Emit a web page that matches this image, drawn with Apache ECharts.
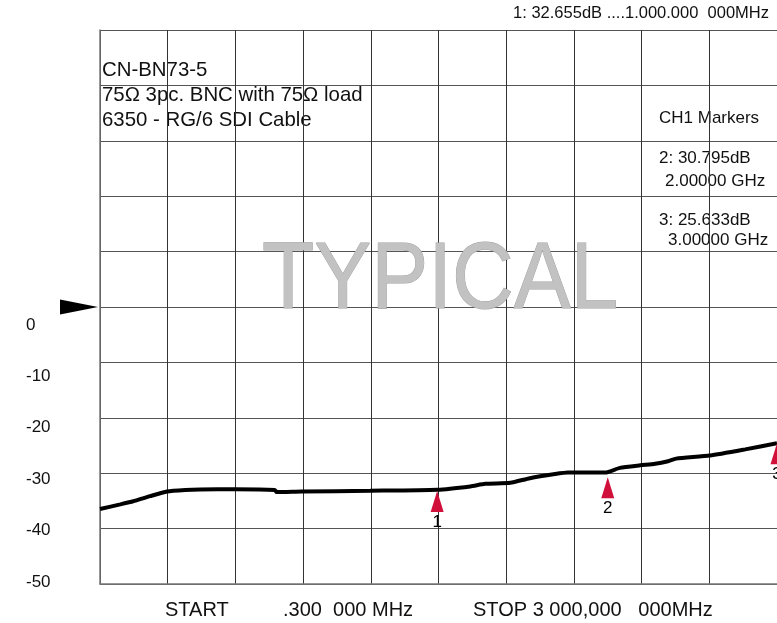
<!DOCTYPE html>
<html>
<head>
<meta charset="utf-8">
<script src="https://cdn.jsdelivr.net/npm/echarts@6/dist/echarts.min.js"></script>
<style>
    html, body { margin: 0; padding: 0; background: #fff; }
    #chart { width: 777px; height: 623px; }
</style>
</head>
<body>
<div id="chart"></div>
<script>
// trace, x in screen divisions (0..10), y in dB
const traceX = [0, 0.30, 0.49, 0.74, 0.99, 1.26, 1.48, 1.99, 2.58, 2.61, 2.98, 3.99, 4.98, 5.47, 5.69, 6.06, 6.35, 6.72, 6.91, 7.46, 7.68, 7.98, 8.20, 8.39, 8.51, 9.01, 9.53, 10];
const traceDb = [-35.8, -34.9, -34.3, -33.3, -32.4, -32.1, -32.0, -31.95, -32.1, -32.5, -32.4, -32.25, -32.05, -31.4, -30.9, -30.7, -29.8, -29.0, -28.7, -28.7, -27.8, -27.3, -27.0, -26.5, -26.0, -25.4, -24.2, -23.0];

// marker arrows
const markerNames = ['1', '2', '3'];
const markerX = [4.98, 7.5, 10];
const markerDb = [-32.3, -29.6, -23.0];

const dbTicks = [0, -10, -20, -30, -40, -50];
const refLevelDiv = 5;

const headerText = '1: 32.655dB ....1.000.000  000MHz';
const noteLines = ['CN-BN73-5', '75\u03A9 3pc. BNC with 75\u03A9 load', '6350 - RG/6 SDI Cable'];
const markerInfo = [
    { text: 'CH1 Markers', x: 659, y: 118 },
    { text: '2: 30.795dB', x: 659, y: 158 },
    { text: '2.00000 GHz', x: 665, y: 181 },
    { text: '3: 25.633dB', x: 659, y: 220 },
    { text: '3.00000 GHz', x: 668, y: 240 }
];
const footer = [
    { text: 'START', x: 165 },
    { text: '.300  000 MHz', x: 283 },
    { text: 'STOP 3 000,000   000MHz', x: 473 }
];

const FONT = '"Liberation Sans", Arial, sans-serif';

const chart = echarts.init(document.getElementById('chart'));

const graphics = [];
graphics.push({
    type: 'text', x: 769, y: 13,
    style: { text: headerText, font: '16.5px ' + FONT, fill: '#111', textAlign: 'right', textVerticalAlign: 'middle' }
});
noteLines.forEach((t, i) => {
    graphics.push({
        type: 'text', x: 102, y: 70 + i * 25,
        style: { text: t, font: '20.4px ' + FONT, fill: '#111', textVerticalAlign: 'middle' }
    });
});
markerInfo.forEach((m) => {
    graphics.push({
        type: 'text', x: m.x, y: m.y,
        style: { text: m.text, font: '17px ' + FONT, fill: '#111', textVerticalAlign: 'middle' }
    });
});
footer.forEach((f) => {
    graphics.push({
        type: 'text', x: f.x, y: 610,
        style: { text: f.text, font: '20px ' + FONT, fill: '#111', textVerticalAlign: 'middle' }
    });
});
graphics.push({
    type: 'text', x: 262, y: 282, scaleX: 0.9, z: 1,
    style: {
        text: 'TYPICAL', font: '95px ' + FONT, fill: '#c2c2c2',
        stroke: '#a0a0a0', lineWidth: 1, textVerticalAlign: 'middle'
    }
});

chart.setOption({
    animation: false,
    textStyle: { fontFamily: FONT },
    grid: [
        { left: 100, right: 0, top: 30, bottom: 39 },
        { left: 100, right: 0, top: 325, bottom: 41 }
    ],
    xAxis: [
        {
            gridIndex: 0, type: 'value', min: 0, max: 10, interval: 1,
            axisLine: { show: true, lineStyle: { color: '#777', width: 1.5 } },
            axisTick: { show: false },
            axisLabel: { show: false },
            splitLine: { show: true, showMaxLine: false, lineStyle: { color: '#333', width: 1 } }
        },
        { gridIndex: 1, type: 'value', min: 0, max: 10, show: false }
    ],
    yAxis: [
        {
            gridIndex: 0, type: 'value', min: 0, max: 10, interval: 1,
            axisLine: { show: true, lineStyle: { color: '#777', width: 1.5 } },
            axisTick: { show: false },
            axisLabel: { show: false },
            splitLine: { show: true, lineStyle: { color: '#555', width: 1 } }
        },
        {
            gridIndex: 1, type: 'value', min: -50, max: 0, interval: 10,
            axisLine: { show: false },
            axisTick: { show: false },
            splitLine: { show: false },
            axisLabel: {
                align: 'left', margin: 74, fontSize: 17, color: '#111',
                formatter: (v) => (dbTicks.includes(v) ? String(v) : '')
            }
        }
    ],
    graphic: graphics,
    series: [
        {
            // reference level pointer
            type: 'scatter', xAxisIndex: 0, yAxisIndex: 0,
            data: [[0, refLevelDiv]],
            symbol: 'triangle', symbolSize: [15, 38], symbolRotate: -90,
            symbolOffset: [-21, 0],
            itemStyle: { color: '#000', opacity: 1 },
            clip: false, silent: true
        },
        {
            type: 'line', xAxisIndex: 1, yAxisIndex: 1,
            data: traceX.map((x, i) => [x, traceDb[i]]),
            smooth: 0.2, showSymbol: false,
            lineStyle: { color: '#000', width: 4 },
            clip: false, z: 3
        },
        {
            type: 'scatter', xAxisIndex: 1, yAxisIndex: 1,
            data: markerX.map((x, i) => ({ value: [x, markerDb[i]], name: markerNames[i] })),
            symbol: 'triangle', symbolSize: [13, 21], symbolOffset: [0, 10.5],
            itemStyle: { color: '#d0103a', opacity: 1 },
            label: {
                show: true, position: 'bottom', distance: 2,
                formatter: (p) => p.name, fontSize: 17, color: '#000'
            },
            z: 4
        }
    ]
});

window.addEventListener('resize', () => {
    chart.resize();
});
</script>
</body>
</html>
